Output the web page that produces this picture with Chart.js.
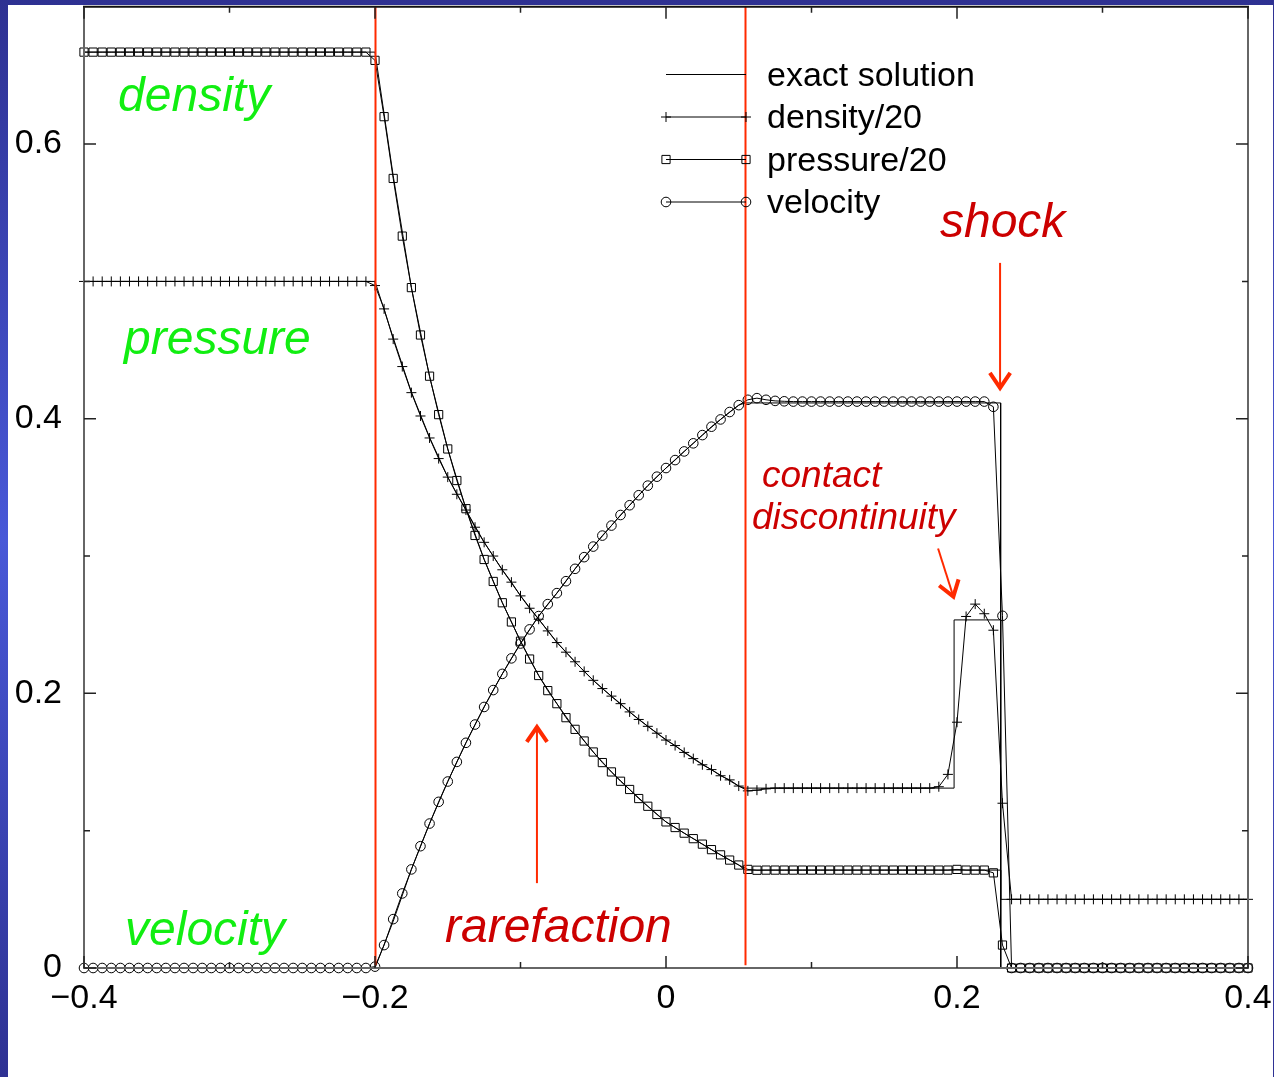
<!DOCTYPE html>
<html>
<head>
<meta charset="utf-8">
<script src="https://cdn.jsdelivr.net/npm/chart.js@4.4.1/dist/chart.umd.min.js"></script>
<style>
  html, body { margin: 0; padding: 0; }
  body {
    width: 1274px; height: 1077px; overflow: hidden; position: relative;
    background: linear-gradient(#2e3192, #4858d8 50%, #2e3192);
  }
  #paper { position: absolute; left: 8px; top: 5px; width: 1265px; height: 1072px; background: #fff; }
  #wrap { position: absolute; left: 0; top: 0; width: 1274px; height: 1077px; }
</style>
</head>
<body>
<div id="paper"></div>
<div id="wrap"><canvas id="shockTube"></canvas></div>
<script>
// grid of the numerical solution: 129 nodes from -0.4 to 0.4
const xStart = -0.4;
const cellWidth = 0.00625;

// numerical results, one value per node
const density20 = [
  0.5, 0.5, 0.5, 0.5, 0.5, 0.5, 0.5, 0.5, 0.5, 0.5, 0.5, 0.5, 0.5, 0.5, 0.5, 0.5,
  0.5, 0.5, 0.5, 0.5, 0.5, 0.5, 0.5, 0.5, 0.5, 0.5, 0.5, 0.5, 0.5, 0.5, 0.5, 0.5,
  0.497, 0.480, 0.458, 0.438, 0.419, 0.402, 0.386, 0.371, 0.3575, 0.345, 0.3335, 0.321, 0.310, 0.300, 0.290, 0.281,
  0.271, 0.262, 0.254, 0.2455, 0.237, 0.230, 0.223, 0.216, 0.2095, 0.2035, 0.198, 0.1925, 0.1865, 0.181, 0.176, 0.171,
  0.166, 0.162, 0.157, 0.1525, 0.148, 0.1445, 0.140, 0.137, 0.1325, 0.129, 0.1295, 0.1305, 0.131, 0.131, 0.131, 0.131,
  0.131, 0.131, 0.131, 0.131, 0.131, 0.131, 0.131, 0.131, 0.131, 0.131, 0.131, 0.131, 0.131, 0.131, 0.132, 0.141,
  0.179, 0.256, 0.265, 0.258, 0.246, 0.120, 0.05, 0.05, 0.05, 0.05, 0.05, 0.05, 0.05, 0.05, 0.05, 0.05,
  0.05, 0.05, 0.05, 0.05, 0.05, 0.05, 0.05, 0.05, 0.05, 0.05, 0.05, 0.05, 0.05, 0.05, 0.05, 0.05,
  0.05
];
const pressure20 = [
  0.667, 0.667, 0.667, 0.667, 0.667, 0.667, 0.667, 0.667, 0.667, 0.667, 0.667, 0.667, 0.667, 0.667, 0.667, 0.667,
  0.667, 0.667, 0.667, 0.667, 0.667, 0.667, 0.667, 0.667, 0.667, 0.667, 0.667, 0.667, 0.667, 0.667, 0.667, 0.667,
  0.661, 0.620, 0.575, 0.533, 0.4955, 0.461, 0.431, 0.403, 0.378, 0.355, 0.3345, 0.315, 0.2975, 0.2815, 0.266, 0.252,
  0.238, 0.225, 0.213, 0.202, 0.1925, 0.1823, 0.1738, 0.1653, 0.1573, 0.1496, 0.1428, 0.136, 0.130, 0.1234, 0.1178, 0.1118,
  0.1064, 0.1023, 0.0982, 0.0942, 0.0902, 0.0862, 0.0824, 0.0786, 0.0750, 0.0718, 0.0712, 0.0713, 0.0713, 0.0713, 0.0713, 0.0713,
  0.0713, 0.0713, 0.0713, 0.0713, 0.0713, 0.0713, 0.0713, 0.0713, 0.0713, 0.0713, 0.0713, 0.0713, 0.0713, 0.0713, 0.0713, 0.0713,
  0.0718, 0.0713, 0.0713, 0.0713, 0.0693, 0.0167, 0, 0, 0, 0, 0, 0, 0, 0, 0, 0,
  0, 0, 0, 0, 0, 0, 0, 0, 0, 0, 0, 0, 0, 0, 0, 0,
  0
];
const velocity = [
  0, 0, 0, 0, 0, 0, 0, 0, 0, 0, 0, 0, 0, 0, 0, 0,
  0, 0, 0, 0, 0, 0, 0, 0, 0, 0, 0, 0, 0, 0, 0, 0,
  0.001, 0.0167, 0.0356, 0.0543, 0.0718, 0.0887, 0.1052, 0.121, 0.1358, 0.1501, 0.164, 0.1773, 0.1901, 0.2024, 0.2142, 0.2255,
  0.2363, 0.2466, 0.2563, 0.265, 0.273, 0.2817, 0.2907, 0.2992, 0.3069, 0.3149, 0.3222, 0.3299, 0.337, 0.3443, 0.3513, 0.3578,
  0.3641, 0.3699, 0.3762, 0.3821, 0.3881, 0.3942, 0.3995, 0.4049, 0.4099, 0.4138, 0.415, 0.4138, 0.413, 0.4127, 0.4125, 0.4125,
  0.4125, 0.4125, 0.4125, 0.4125, 0.4125, 0.4125, 0.4125, 0.4125, 0.4125, 0.4125, 0.4125, 0.4125, 0.4125, 0.4125, 0.4125, 0.4125,
  0.4125, 0.4125, 0.4125, 0.4125, 0.4087, 0.2565, 0, 0, 0, 0, 0, 0, 0, 0, 0, 0,
  0, 0, 0, 0, 0, 0, 0, 0, 0, 0, 0, 0, 0, 0, 0, 0,
  0
];

// exact solution: wave positions (rarefaction head, tail, contact, shock)
const waveX = [-0.2, 0.0543, 0.198, 0.23];
// states: left, behind the rarefaction, shocked shell, right
const exactDensityStates = [0.5, 0.131, 0.2535, 0.05];
const exactPressureStates = [0.667, 0.0713, 0.0713, 0];
const exactVelocityStates = [0, 0.4115, 0.4115, 0];
// rarefaction fan
const exactRareX = [-0.2, -0.1875, -0.175, -0.1625, -0.15, -0.1375, -0.125, -0.1125, -0.1, -0.0875, -0.075,
  -0.0625, -0.05, -0.0375, -0.025, -0.0125, 0, 0.0125, 0.025, 0.0375, 0.05, 0.0543];
const exactDensityRare = [0.5, 0.459, 0.4194, 0.3864, 0.3575, 0.3335, 0.3101, 0.2898, 0.2711, 0.2540, 0.2373,
  0.2228, 0.2095, 0.1978, 0.1864, 0.1760, 0.1663, 0.1573, 0.1484, 0.1404, 0.1324, 0.131];
const exactPressureRare = [0.667, 0.577, 0.4955, 0.4307, 0.378, 0.3345, 0.2976, 0.2661, 0.238, 0.213, 0.1925,
  0.1738, 0.1573, 0.1428, 0.1300, 0.1178, 0.1064, 0.0982, 0.0902, 0.0824, 0.0750, 0.0713];
const exactVelocityRare = [0, 0.034, 0.0718, 0.1052, 0.1358, 0.1640, 0.1901, 0.2142, 0.2363, 0.2563, 0.2730,
  0.2907, 0.3069, 0.3222, 0.3370, 0.3513, 0.3641, 0.3762, 0.3881, 0.3995, 0.4099, 0.4115];

// axes
const xTicks = [-0.4, -0.2, 0, 0.2, 0.4];
const xMinorTicks = [-0.3, -0.1, 0.1, 0.3];
const yTicks = [0, 0.2, 0.4, 0.6];
const yMinorTicks = [0.1, 0.3, 0.5];

const FONT = "'Liberation Sans', Arial, Helvetica, sans-serif";

function nodes(values) {
  return values.map((v, i) => ({ x: xStart + i * cellWidth, y: v }));
}

function exactCurve(states, rare) {
  const pts = [{ x: xStart, y: states[0] }];
  exactRareX.forEach((x, i) => pts.push({ x: x, y: rare[i] }));
  pts.push({ x: waveX[2], y: states[1] });
  pts.push({ x: waveX[2], y: states[2] });
  pts.push({ x: waveX[3], y: states[2] });
  pts.push({ x: waveX[3], y: states[3] });
  pts.push({ x: -xStart, y: states[3] });
  return pts;
}

function fmt(v) {
  if (v === 0) return '0';
  return (v < 0 ? '\u2212' : '') + Math.abs(v).toFixed(1);
}

const numStyle = {
  borderColor: '#000', borderWidth: 1, pointBorderColor: '#000',
  pointBackgroundColor: 'rgba(0,0,0,0)', pointBorderWidth: 1, fill: false, tension: 0, clip: false
};

const markers = { cross: 5, rect: 5.8, circle: 4.8 };

// annotations, placed in data units
const notes = [
  { text: 'density', x: -0.3766, y: 0.624, color: '#11ee11', size: 48 },
  { text: 'pressure', x: -0.3725, y: 0.447, color: '#11ee11', size: 48 },
  { text: 'velocity', x: -0.3718, y: 0.0167, color: '#11ee11', size: 48 },
  { text: 'shock', x: 0.1883, y: 0.532, color: '#cc0000', size: 48 },
  { text: 'rarefaction', x: -0.1519, y: 0.0189, color: '#cc0000', size: 48 },
  { text: 'contact', x: 0.066, y: 0.3505, color: '#cc0000', size: 37 },
  { text: 'discontinuity', x: 0.0591, y: 0.3200, color: '#cc0000', size: 37 }
];
const arrows = [
  { from: [0.2296, 0.5135], to: [0.2296, 0.4225] },
  { from: [0.1870, 0.3055], to: [0.1975, 0.2705] },
  { from: [-0.0887, 0.0618], to: [-0.0887, 0.1755] }
];
const redLineBottom = 0.002;

const legendRows = [
  { label: 'exact solution', style: null },
  { label: 'density/20', style: 'cross' },
  { label: 'pressure/20', style: 'rect' },
  { label: 'velocity', style: 'circle' }
];

const decor = {
  id: 'decor',
  afterDatasetsDraw(chart) {
    const { ctx, chartArea: a, scales: { x, y } } = chart;
    ctx.save();

    // rarefaction head / tail
    ctx.strokeStyle = '#ff2a00';
    ctx.lineWidth = 2;
    [waveX[0], waveX[1]].forEach(v => {
      const px = Math.round(x.getPixelForValue(v)) + 0.5;
      ctx.beginPath();
      ctx.moveTo(px, a.top);
      ctx.lineTo(px, y.getPixelForValue(redLineBottom));
      ctx.stroke();
    });

    // frame
    ctx.lineWidth = 2;
    ctx.strokeStyle = '#666';
    ctx.beginPath();
    ctx.moveTo(a.left, a.top); ctx.lineTo(a.left, a.bottom); ctx.lineTo(a.right, a.bottom); ctx.lineTo(a.right, a.top);
    ctx.stroke();
    ctx.strokeStyle = '#111';
    ctx.beginPath();
    ctx.moveTo(a.left - 1, a.top); ctx.lineTo(a.right + 1, a.top);
    ctx.stroke();

    // inward ticks on all four sides
    ctx.strokeStyle = '#222';
    ctx.lineWidth = 1.5;
    const tickX = (v, len) => {
      const px = x.getPixelForValue(v);
      ctx.beginPath();
      ctx.moveTo(px, a.bottom); ctx.lineTo(px, a.bottom - len);
      ctx.moveTo(px, a.top); ctx.lineTo(px, a.top + len);
      ctx.stroke();
    };
    const tickY = (v, len) => {
      const py = y.getPixelForValue(v);
      ctx.beginPath();
      ctx.moveTo(a.left, py); ctx.lineTo(a.left + len, py);
      ctx.moveTo(a.right, py); ctx.lineTo(a.right - len, py);
      ctx.stroke();
    };
    xTicks.forEach(v => tickX(v, 12));
    xMinorTicks.forEach(v => tickX(v, 6));
    yTicks.forEach(v => tickY(v, 12));
    yMinorTicks.forEach(v => tickY(v, 6));

    // legend
    const rowY = [74.5, 117, 159.5, 202];
    ctx.font = '34px ' + FONT;
    ctx.textAlign = 'left';
    ctx.textBaseline = 'alphabetic';
    legendRows.forEach((row, k) => {
      const ly = rowY[k];
      ctx.strokeStyle = '#000';
      ctx.lineWidth = 1;
      ctx.beginPath();
      ctx.moveTo(666, ly); ctx.lineTo(746, ly);
      ctx.stroke();
      if (row.style) {
        ctx.fillStyle = 'rgba(0,0,0,0)';
        [666, 746].forEach(lx => {
          Chart.helpers.drawPoint(ctx, { pointStyle: row.style, radius: markers[row.style], borderWidth: 1, rotation: 0 }, lx, ly);
        });
      }
      ctx.fillStyle = '#000';
      ctx.fillText(row.label, 767, ly + 11);
    });

    // notes
    notes.forEach(n => {
      ctx.font = 'italic ' + n.size + 'px ' + FONT;
      ctx.fillStyle = n.color;
      ctx.fillText(n.text, x.getPixelForValue(n.x), y.getPixelForValue(n.y));
    });

    // arrows
    ctx.strokeStyle = '#ff2a00';
    ctx.lineCap = 'butt';
    arrows.forEach(ar => {
      const x0 = x.getPixelForValue(ar.from[0]), y0 = y.getPixelForValue(ar.from[1]);
      const x1 = x.getPixelForValue(ar.to[0]), y1 = y.getPixelForValue(ar.to[1]);
      const ang = Math.atan2(y1 - y0, x1 - x0);
      ctx.lineWidth = 2;
      ctx.beginPath();
      ctx.moveTo(x0, y0); ctx.lineTo(x1, y1);
      ctx.stroke();
      ctx.lineWidth = 4;
      ctx.lineJoin = 'miter';
      const L = 18, w = 0.6;
      ctx.beginPath();
      ctx.moveTo(x1 - L * Math.cos(ang - w), y1 - L * Math.sin(ang - w));
      ctx.lineTo(x1, y1);
      ctx.lineTo(x1 - L * Math.cos(ang + w), y1 - L * Math.sin(ang + w));
      ctx.stroke();
    });

    ctx.restore();
  }
};

const ctx = document.getElementById('shockTube').getContext('2d');
new Chart(ctx, {
  type: 'line',
  data: {
    datasets: [
      { label: 'density exact', data: exactCurve(exactDensityStates, exactDensityRare), borderColor: '#000', borderWidth: 1, pointRadius: 0 },
      { label: 'pressure exact', data: exactCurve(exactPressureStates, exactPressureRare), borderColor: '#000', borderWidth: 1, pointRadius: 0 },
      { label: 'velocity exact', data: exactCurve(exactVelocityStates, exactVelocityRare), borderColor: '#000', borderWidth: 1, pointRadius: 0 },
      Object.assign({ label: 'density/20', data: nodes(density20), pointStyle: 'cross', pointRadius: markers.cross }, numStyle),
      Object.assign({ label: 'pressure/20', data: nodes(pressure20), pointStyle: 'rect', pointRadius: markers.rect }, numStyle),
      Object.assign({ label: 'velocity', data: nodes(velocity), pointStyle: 'circle', pointRadius: markers.circle }, numStyle)
    ]
  },
  options: {
    responsive: true,
    maintainAspectRatio: false,
    animation: false,
    events: [],
    devicePixelRatio: 1,
    layout: { padding: { top: 6, right: 26, left: 0, bottom: 0 } },
    plugins: { legend: { display: false }, tooltip: { enabled: false } },
    scales: {
      x: {
        type: 'linear', min: -0.4, max: 0.4,
        grid: { display: false, drawTicks: false },
        border: { display: false },
        afterBuildTicks: s => { s.ticks = xTicks.map(v => ({ value: v })); },
        afterFit: s => { s.height = 109; s.paddingLeft = 0; s.paddingRight = 0; },
        ticks: { callback: v => fmt(v), color: '#000', font: { family: FONT, size: 34 }, padding: 10, maxRotation: 0, autoSkip: false }
      },
      y: {
        type: 'linear', min: 0, max: 0.7,
        grid: { display: false, drawTicks: false },
        border: { display: false },
        afterBuildTicks: s => { s.ticks = yTicks.map(v => ({ value: v })); },
        afterFit: s => { s.width = 84; s.paddingTop = 0; s.paddingBottom = 0; },
        ticks: { callback: v => fmt(v), color: '#000', font: { family: FONT, size: 34 }, padding: 22 }
      }
    }
  },
  plugins: [decor]
});
</script>
</body>
</html>
